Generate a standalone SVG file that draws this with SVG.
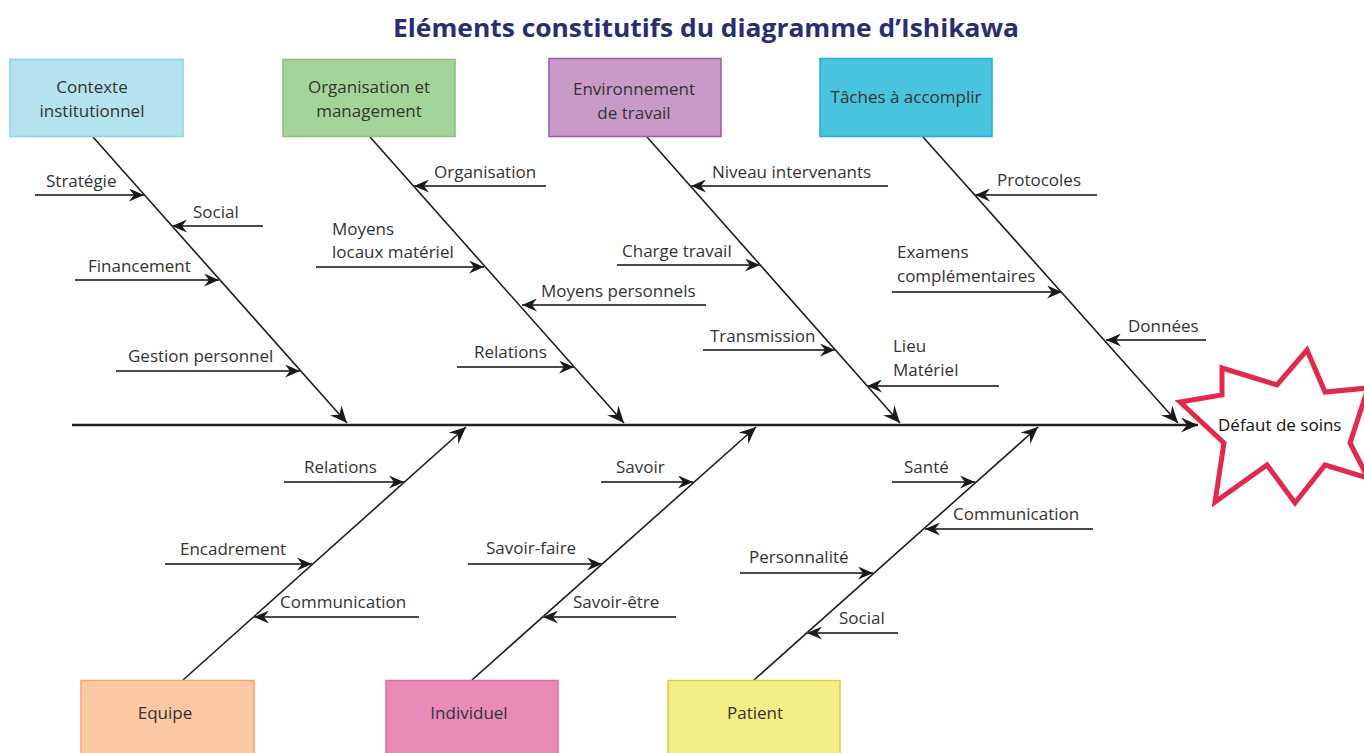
<svg xmlns="http://www.w3.org/2000/svg" width="1364" height="753" viewBox="0 0 1364 753">
<style>
.t{font-family:"Open Sans","Liberation Sans",sans-serif;font-size:17px;fill:#333333}
.c{text-anchor:middle}
.box{stroke-width:1.5}
.bone{stroke:#1e1e1e;stroke-width:1.6;fill:none;marker-end:url(#big)}
.sub{stroke:#4a4a4a;stroke-width:2;fill:none;marker-end:url(#sm)}
</style>
<defs>
<marker id="big" viewBox="-17 -7.5 17 15" refX="0" refY="0" markerWidth="17" markerHeight="15" orient="auto" markerUnits="userSpaceOnUse"><path d="M0,0 L-17,-7.5 L-11,0 L-17,7.5 Z" fill="#1a1a1a"/></marker>
<marker id="sm" viewBox="-15 -6.5 15 13" refX="0" refY="0" markerWidth="15" markerHeight="13" orient="auto" markerUnits="userSpaceOnUse"><path d="M0,0 L-15,-6.5 L-10,0 L-15,6.5 Z" fill="#1a1a1a"/></marker>
</defs>
<rect width="1364" height="753" fill="#ffffff"/>
<text x="393" y="37" textLength="626" lengthAdjust="spacingAndGlyphs" font-family="'Open Sans','Liberation Sans',sans-serif" font-weight="bold" font-size="25" fill="#2b2d72">Eléments constitutifs du diagramme d’Ishikawa</text>

<g id="connectors">
<line x1="72" y1="425" x2="1198" y2="425" stroke="#222" stroke-width="2.5" marker-end="url(#big)"/>
<line class="bone" x1="93" y1="137" x2="347" y2="423"/>
<line class="bone" x1="370" y1="137" x2="624" y2="423"/>
<line class="bone" x1="647" y1="137" x2="900" y2="423"/>
<line class="bone" x1="923" y1="137" x2="1178" y2="423"/>
<line class="bone" x1="183" y1="680" x2="466" y2="427"/>
<line class="bone" x1="472" y1="680" x2="756" y2="427"/>
<line class="bone" x1="754" y1="680" x2="1038" y2="427"/>
<line class="sub" x1="35" y1="195" x2="144" y2="195"/>
<line class="sub" x1="263" y1="226" x2="172" y2="226"/>
<line class="sub" x1="75" y1="280" x2="219" y2="280"/>
<line class="sub" x1="116" y1="371" x2="300" y2="371"/>
<line class="sub" x1="546" y1="186" x2="414" y2="186"/>
<line class="sub" x1="316" y1="267" x2="484" y2="267"/>
<line class="sub" x1="706" y1="305" x2="522" y2="305"/>
<line class="sub" x1="457" y1="367" x2="574" y2="367"/>
<line class="sub" x1="888" y1="186" x2="691" y2="186"/>
<line class="sub" x1="617" y1="265" x2="760" y2="265"/>
<line class="sub" x1="703" y1="350" x2="835" y2="350"/>
<line class="sub" x1="999" y1="386" x2="867" y2="386"/>
<line class="sub" x1="1097" y1="195" x2="975" y2="195"/>
<line class="sub" x1="892" y1="292" x2="1062" y2="292"/>
<line class="sub" x1="1206" y1="340" x2="1106" y2="340"/>
<line class="sub" x1="284" y1="482" x2="404" y2="482"/>
<line class="sub" x1="165" y1="564" x2="312" y2="564"/>
<line class="sub" x1="419" y1="617" x2="254" y2="617"/>
<line class="sub" x1="601" y1="482" x2="693" y2="482"/>
<line class="sub" x1="468" y1="564" x2="602" y2="564"/>
<line class="sub" x1="676" y1="617" x2="543" y2="617"/>
<line class="sub" x1="892" y1="482" x2="975" y2="482"/>
<line class="sub" x1="1093" y1="529" x2="925" y2="529"/>
<line class="sub" x1="740" y1="573" x2="873" y2="573"/>
<line class="sub" x1="898" y1="633" x2="807" y2="633"/>
</g>

<g id="labels">
<text class="t" x="46" y="187">Stratégie</text>
<text class="t" x="193" y="218">Social</text>
<text class="t" x="88" y="272">Financement</text>
<text class="t" x="128" y="362">Gestion personnel</text>
<text class="t" x="434" y="178">Organisation</text>
<text class="t" x="332" y="235">Moyens</text>
<text class="t" x="332" y="258">locaux matériel</text>
<text class="t" x="541" y="297">Moyens personnels</text>
<text class="t" x="474" y="358">Relations</text>
<text class="t" x="712" y="178">Niveau intervenants</text>
<text class="t" x="622" y="257">Charge travail</text>
<text class="t" x="710" y="342">Transmission</text>
<text class="t" x="893" y="352">Lieu</text>
<text class="t" x="893" y="376">Matériel</text>
<text class="t" x="997" y="186">Protocoles</text>
<text class="t" x="897" y="258">Examens</text>
<text class="t" x="897" y="282">complémentaires</text>
<text class="t" x="1128" y="332">Données</text>
<text class="t" x="304" y="473">Relations</text>
<text class="t" x="180" y="555">Encadrement</text>
<text class="t" x="280" y="608">Communication</text>
<text class="t" x="616" y="473">Savoir</text>
<text class="t" x="486" y="554">Savoir-faire</text>
<text class="t" x="573" y="608">Savoir-être</text>
<text class="t" x="904" y="473">Santé</text>
<text class="t" x="953" y="520">Communication</text>
<text class="t" x="749" y="563">Personnalité</text>
<text class="t" x="839" y="624">Social</text>
</g>

<g id="contexte">
<rect class="box" x="10" y="59.5" width="173" height="77" fill="#b5e2ef" stroke="#8dd3e6"/>
<text class="t c" x="92" y="93">Contexte</text>
<text class="t c" x="92" y="117">institutionnel</text>
</g>
<g id="organisation">
<rect class="box" x="283" y="59.5" width="172" height="77" fill="#a5d49a" stroke="#86c27a"/>
<text class="t c" x="369" y="93">Organisation et</text>
<text class="t c" x="369" y="117">management</text>
</g>
<g id="environnement">
<rect class="box" x="549" y="58.5" width="172" height="78" fill="#c79ac8" stroke="#9b59a6"/>
<text class="t c" x="634" y="95">Environnement</text>
<text class="t c" x="634" y="119">de travail</text>
</g>
<g id="taches">
<rect class="box" x="820" y="58.5" width="172" height="78" fill="#4ac4de" stroke="#22aed6"/>
<text class="t c" x="906" y="103">Tâches à accomplir</text>
</g>
<g id="equipe">
<rect class="box" x="81" y="680.5" width="173" height="80" fill="#fdc9a4" stroke="#f7a06c"/>
<text class="t c" x="165" y="719">Equipe</text>
</g>
<g id="individuel">
<rect class="box" x="386" y="680.5" width="172" height="80" fill="#e88bb8" stroke="#e86ba0"/>
<text class="t c" x="469" y="719">Individuel</text>
</g>
<g id="patient">
<rect class="box" x="668" y="680.5" width="172" height="80" fill="#f3ef87" stroke="#d6cf4a"/>
<text class="t c" x="755" y="719">Patient</text>
</g>
<g id="defaut">
<polygon points="1180,402 1222,395 1222,368 1277,385 1307,350 1325,392 1368,388 1350,443 1368,478 1325,465 1295,503 1267,465 1215,502 1224,443" fill="#ffffff" stroke="#e3284e" stroke-width="5" stroke-linejoin="miter"/>
<text class="t" x="1218" y="431" style="fill:#111">Défaut de soins</text>
</g>
</svg>
